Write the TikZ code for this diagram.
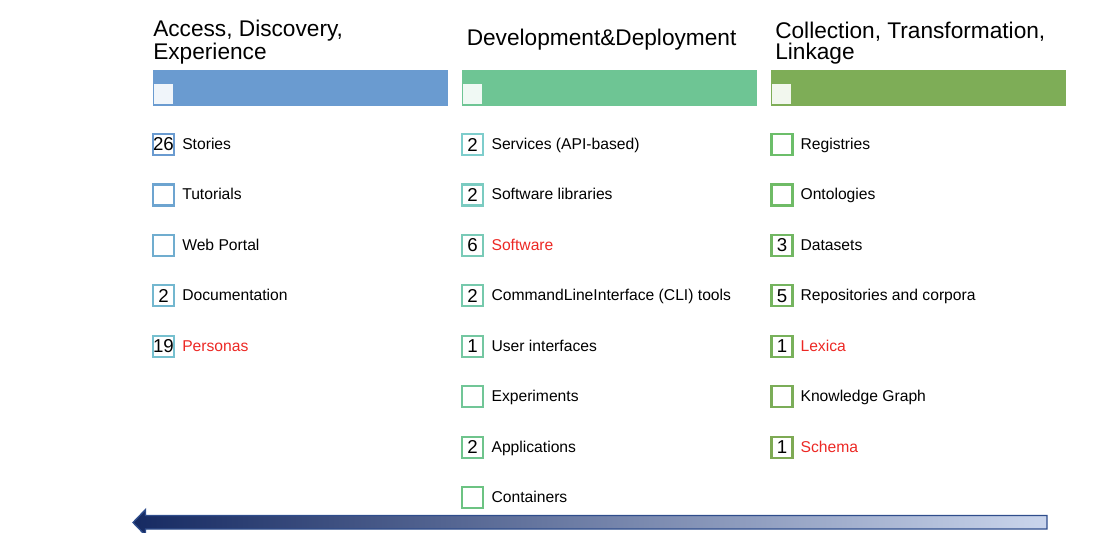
\documentclass[tikz,border=0pt]{standalone}
\usepackage{fontspec}
\setmainfont{Liberation Sans}
\usepackage{xcolor}
\usetikzlibrary{positioning}

\definecolor{adeBlue}{RGB}{106,155,208}
\definecolor{adeTeal}{RGB}{118,192,207}
\definecolor{ddTeal}{RGB}{126,205,204}
\definecolor{ddGreen}{RGB}{108,195,130}
\definecolor{ctlGreen}{RGB}{108,190,106}
\definecolor{ctlOlive}{RGB}{126,170,84}
\definecolor{adeBar}{RGB}{106,155,208}
\definecolor{ddBar}{RGB}{110,197,148}
\definecolor{ctlBar}{RGB}{126,173,87}
\definecolor{redText}{RGB}{236,40,36}
\definecolor{arrowDark}{RGB}{22,42,98}
\definecolor{arrowLight}{RGB}{202,213,236}
\definecolor{arrowLine}{RGB}{47,77,140}

\begin{document}
\begin{tikzpicture}[x=0.75pt, y=-0.75pt,
  head/.style={anchor=base west, inner sep=0pt, align=left, font=\fontsize{17}{15.75}\selectfont},
  bar/.style={anchor=north west, fill=#1, draw=white, line width=0.3pt, minimum width=222pt, minimum height=27.75pt, inner sep=0pt},
  barmark/.style={anchor=north west, fill=#1, minimum size=14.5pt, inner sep=0pt},
  countbox/.style={draw=#1, line width=1.65pt, fill=white, minimum width=15.75pt, minimum height=15.75pt, inner sep=0pt, font=\fontsize{14}{14}\selectfont},
  item/.style={anchor=base west, inner sep=0pt, font=\fontsize{11.75}{14}\selectfont}]

\useasboundingbox (0,0) rectangle (1110,532);

% headings (base = last line)
\node[head] (headA) at (153,59.3) {Access, Discovery,\\Experience};
\node[head] (headB) at (466.5,45.7) {Development\&Deployment};
\node[head] (headC) at (775,59.3) {Collection, Transformation,\\Linkage};

% colour bars
\node[bar=adeBar] (barA) at (152,69) {};
\node[bar=ddBar] (barB) at (461,69) {};
\node[bar=ctlBar] (barC) at (770,69) {};
\node[barmark=adeBar!10!white] (markA) at (153.3,84) {};
\node[barmark=ddBar!10!white] (markB) at (462.3,84) {};
\node[barmark=ctlBar!10!white] (markC) at (771.3,84) {};

% 1st column
\foreach \cnt/\lbl [count=\i from 0] in {26/Stories, /Tutorials, /Web Portal, 2/Documentation, 19/\textcolor{redText}{Personas}}{
  \pgfmathtruncatemacro\p{100-25*\i}
  \node[countbox={adeBlue!\p!adeTeal}] (a\i) at (163.5,{144.5+50.45*\i}) {\cnt};
  \node[item] (a\i-t) at (182,{149.3+50.45*\i}) {\lbl};
}

% 2nd column
\foreach \cnt/\lbl [count=\i from 0] in {2/Services (API-based), 2/Software libraries, 6/\textcolor{redText}{Software}, 2/CommandLineInterface (CLI) tools, 1/User interfaces, /Experiments, 2/Applications, /Containers}{
  \pgfmathtruncatemacro\p{100-100*\i/7}
  \node[countbox={ddTeal!\p!ddGreen}] (b\i) at (472.5,{144.5+50.45*\i}) {\cnt};
  \node[item] (b\i-t) at (491.3,{149.3+50.45*\i}) {\lbl};
}

% 3rd column
\foreach \cnt/\lbl [count=\i from 0] in {/Registries, /Ontologies, 3/Datasets, 5/Repositories and corpora, 1/\textcolor{redText}{Lexica}, /Knowledge Graph, 1/\textcolor{redText}{Schema}}{
  \pgfmathtruncatemacro\p{100-100*\i/6}
  \node[countbox={ctlGreen!\p!ctlOlive}] (c\i) at (782,{144.5+50.45*\i}) {\cnt};
  \node[item] (c\i-t) at (800.3,{149.3+50.45*\i}) {\lbl};
}

% arrow
\shadedraw[left color=arrowDark, right color=arrowLight, draw=arrowLine, line width=1pt]
  (133,522.5) -- (145.5,509.5) -- (145.5,515.5) -- (1047,515.5) -- (1047,529) -- (145.5,529) -- (145.5,535.5) -- cycle;
\end{tikzpicture}
\end{document}
